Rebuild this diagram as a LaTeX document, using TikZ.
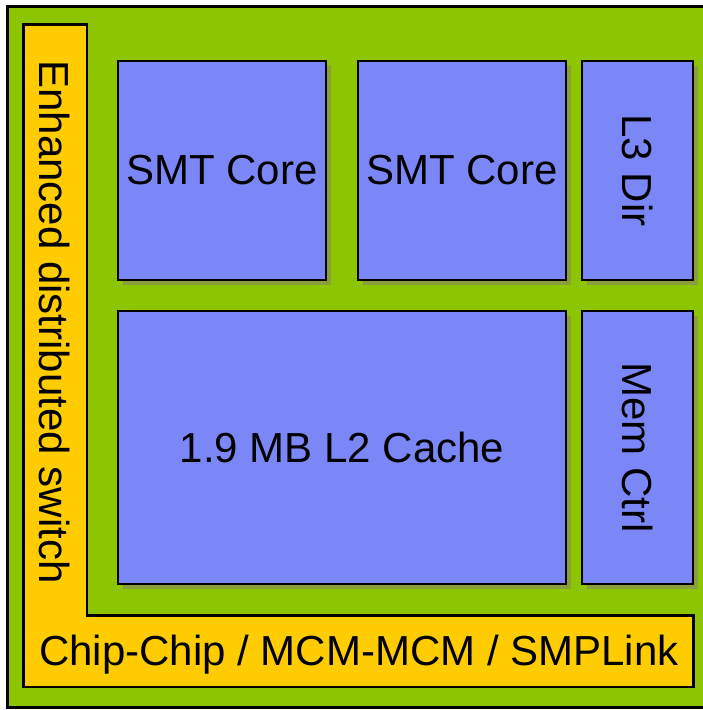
\documentclass[tikz,border=0pt]{standalone}
\usepackage{fontspec}
\setmainfont{Liberation Sans}
\usetikzlibrary{shadows}
\definecolor{bggreen}{RGB}{141,198,0}
\definecolor{swyellow}{RGB}{255,204,0}
\definecolor{blkblue}{RGB}{123,135,247}
\definecolor{shadcol}{RGB}{138,158,58}
\tikzset{
  blk/.style={draw=black, line width=2.5pt, fill=blkblue, inner sep=0pt,
    drop shadow={shadow xshift=5pt, shadow yshift=-5pt, fill=shadcol, opacity=1}},
  lbl/.style={font=\fontsize{42}{48}\selectfont, inner sep=0pt, text=black}
}
\begin{document}
\begin{tikzpicture}[x=1pt,y=-1pt]
\useasboundingbox (0,0) rectangle (703,710);
\clip (0,0) rectangle (703,710);
% outer board
\draw[line width=2.5pt, fill=bggreen] (7.5,6.5) rectangle (720,707.5);
% L-shaped switch
\draw[line width=2.5pt, fill=swyellow, line join=miter]
  (23.5,24.5) -- (87,24.5) -- (87,615.5) -- (693.5,615.5) -- (693.5,687) -- (23.5,687) -- cycle;
\node[lbl, rotate=-90] (sw) at (55,322) {Enhanced distributed switch};
\node[lbl] (link) at (359,655) {Chip-Chip / MCM-MCM / SMPLink};
% blocks
\node[blk, minimum width=208pt, minimum height=219pt] (core1) at (222,170.5) {};
\node[blk, minimum width=208pt, minimum height=219pt] (core2) at (462,170.5) {};
\node[blk, minimum width=111pt, minimum height=219pt] (l3) at (637.5,170.5) {};
\node[blk, minimum width=448pt, minimum height=273pt] (l2) at (342,447.5) {};
\node[blk, minimum width=111pt, minimum height=273pt] (mem) at (637.5,447.5) {};
% labels
\node[lbl] (t1) at (core1.center) {SMT Core};
\node[lbl] (t2) at (core2.center) {SMT Core};
\node[lbl, rotate=-90] (t3) at (l3.center) {L3 Dir};
\node[lbl] (t4) at (l2.center) {1.9 MB L2 Cache};
\node[lbl, rotate=-90] (t5) at (mem.center) {Mem Ctrl};
\end{tikzpicture}
\end{document}
